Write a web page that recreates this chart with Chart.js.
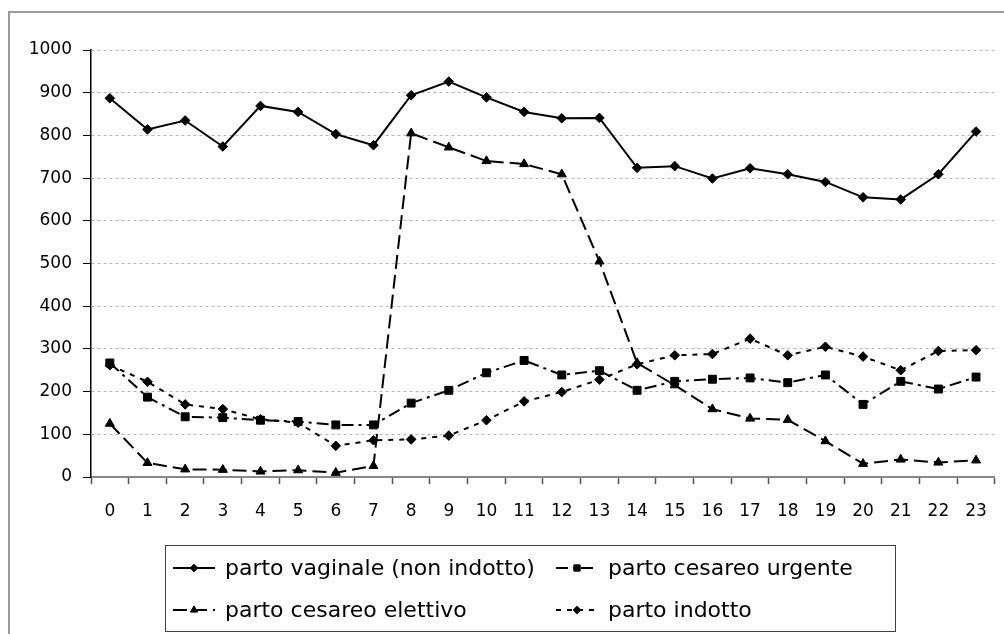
<!DOCTYPE html>
<html>
<head>
<meta charset="utf-8">
<title>Parti per ora del giorno</title>
<script src="https://cdn.jsdelivr.net/npm/chart.js@4/dist/chart.umd.min.js"></script>
<style>
  html, body { margin: 0; padding: 0; background: #ffffff; }
  canvas { display: block; }
</style>
</head>
<body>
<canvas id="chart" width="1004" height="634"></canvas>
<script>
// Hours of the day
const hours = ['0','1','2','3','4','5','6','7','8','9','10','11','12','13','14','15','16','17','18','19','20','21','22','23'];

// Births per hour, by type of delivery
const vaginale = [887, 814, 835, 774, 869, 855, 803, 777, 894, 926, 889, 855, 840, 841, 724, 728, 699, 723, 709, 691, 655, 650, 709, 809];
const cesareoUrgente = [267, 187, 141, 139, 133, 130, 122, 122, 173, 203, 244, 273, 239, 249, 203, 224, 229, 232, 221, 239, 170, 224, 206, 234];
const cesareoElettivo = [125, 33, 18, 17, 13, 16, 10, 26, 805, 772, 740, 733, 709, 505, 267, 215, 159, 137, 134, 84, 31, 41, 34, 39];
const indotto = [262, 223, 170, 159, 135, 127, 73, 86, 88, 97, 133, 177, 199, 228, 264, 285, 288, 324, 285, 305, 282, 250, 295, 297];

// Series names as shown in the legend
const seriesNames = ['parto vaginale (non indotto)', 'parto cesareo urgente', 'parto cesareo elettivo', 'parto indotto'];

// Y axis range
const yMin = 0, yMax = 1000, yStep = 100;

const FONT = 'DejaVu Sans';

function series(label, data, dash, style, radius) {
  return {
    label: label,
    data: data,
    borderColor: '#000000',
    backgroundColor: '#000000',
    borderWidth: 2,
    borderDash: dash,
    pointStyle: style,
    pointRadius: radius,
    pointHoverRadius: radius,
    pointBorderWidth: 1,
    pointBackgroundColor: '#000000',
    pointBorderColor: '#000000',
    tension: 0,
    fill: false
  };
}

// Outer frame plus a two-column legend box under the plot
const frameAndLegend = {
  id: 'frameAndLegend',
  beforeDraw(chart) {
    const ctx = chart.ctx;
    ctx.save();
    ctx.fillStyle = '#ffffff';
    ctx.fillRect(0, 0, chart.width, chart.height);
    ctx.strokeStyle = '#999999';
    ctx.lineWidth = 2;
    ctx.strokeRect(9, 12, chart.width + 20, chart.height + 20);
    ctx.restore();
  },
  afterDraw(chart) {
    const ctx = chart.ctx;
    ctx.save();
    // legend box
    ctx.strokeStyle = '#404040';
    ctx.lineWidth = 1;
    ctx.strokeRect(165.5, 545.5, 730, 86);

    const cols = [173, 556];
    const rows = [568, 610];
    const sampleW = 42;
    ctx.font = '22px "' + FONT + '"';
    ctx.textBaseline = 'middle';
    ctx.textAlign = 'left';
    chart.data.datasets.forEach((ds, i) => {
      const x = cols[i % 2];
      const y = rows[Math.floor(i / 2)];
      // line sample
      ctx.save();
      ctx.strokeStyle = ds.borderColor;
      ctx.lineWidth = ds.borderWidth;
      ctx.setLineDash(ds.borderDash || []);
      ctx.beginPath();
      ctx.moveTo(x, y);
      ctx.lineTo(x + sampleW, y);
      ctx.stroke();
      ctx.restore();
      // marker
      ctx.save();
      ctx.fillStyle = ds.pointBackgroundColor;
      ctx.strokeStyle = ds.pointBorderColor;
      Chart.helpers.drawPoint(ctx, {
        pointStyle: ds.pointStyle,
        radius: ds.pointRadius * 0.8,
        rotation: 0,
        borderWidth: 1
      }, x + sampleW / 2, y);
      ctx.restore();
      // label
      ctx.fillStyle = '#000000';
      ctx.fillText(ds.label, x + sampleW + 10, y + 1);
    });
    ctx.restore();
  }
};

new Chart(document.getElementById('chart'), {
  type: 'line',
  data: {
    labels: hours,
    datasets: [
      series(seriesNames[0], vaginale, [], 'rectRot', 4.8),
      series(seriesNames[1], cesareoUrgente, [12, 5, 3, 5], 'rect', 5.6),
      series(seriesNames[2], cesareoElettivo, [14, 6], 'triangle', 5.2),
      series(seriesNames[3], indotto, [5, 6], 'rectRot', 4.8)
    ]
  },
  options: {
    responsive: false,
    animation: false,
    devicePixelRatio: 1,
    layout: { padding: { left: 0, top: 50, right: 4, bottom: 107 } },
    plugins: {
      legend: { display: false },
      tooltip: { enabled: false }
    },
    scales: {
      x: {
        type: 'category',
        offset: true,
        afterFit(scale) { scale.height = 50; },
        grid: {
          offset: true,
          drawOnChartArea: false,
          drawTicks: true,
          tickLength: 7,
          tickColor: '#555555',
          tickWidth: 1.5
        },
        border: { display: true, color: '#888888', width: 2 },
        ticks: {
          color: '#000000',
          font: { family: FONT, size: 17 },
          padding: 17,
          maxRotation: 0,
          autoSkip: false
        }
      },
      y: {
        min: yMin,
        max: yMax,
        afterFit(scale) { scale.width = 91; },
        grid: {
          color: '#b4b4b4',
          lineWidth: 1,
          drawTicks: true,
          tickLength: 8,
          tickColor: '#000000',
          tickWidth: 1
        },
        border: { display: true, color: '#000000', width: 1.5, dash: [3, 3] },
        ticks: {
          stepSize: yStep,
          color: '#000000',
          font: { family: FONT, size: 17 },
          padding: 11,
          callback: (value) => String(value)
        }
      }
    }
  },
  plugins: [frameAndLegend]
});
</script>
</body>
</html>
